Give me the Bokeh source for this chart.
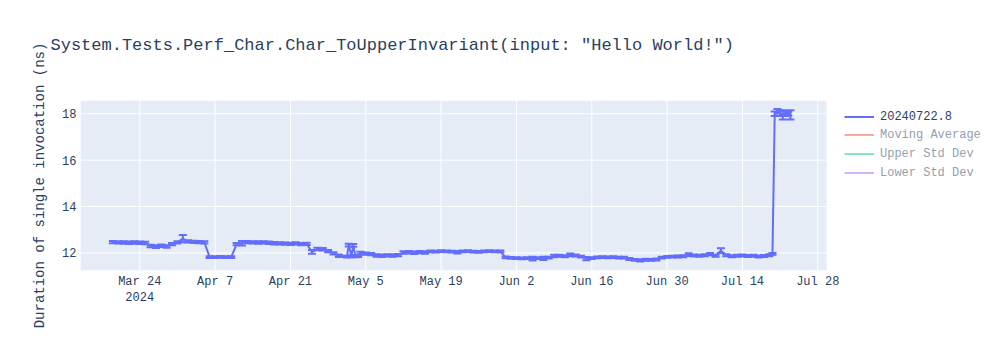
import math
import pandas as pd
from bokeh.plotting import figure
from bokeh.models import (ColumnDataSource, Range1d, FixedTicker, Whisker, TeeHead,
                          Legend, LegendItem, BoxAnnotation, Title)
from bokeh.embed import file_html
from bokeh.resources import INLINE

# ---------------- data ----------------
TITLE = 'System.Tests.Perf_Char.Char_ToUpperInvariant(input: "Hello World!")'
Y_LABEL = "Duration of single invocation (ns)"
SERIES_NAME = "20240722.8"
HIDDEN_SERIES = ["Moving Average", "Upper Std Dev", "Lower Std Dev"]

dates = [
    "2024-03-19", "2024-03-20", "2024-03-21", "2024-03-22", "2024-03-23", "2024-03-24", "2024-03-25",
    "2024-03-26", "2024-03-27", "2024-03-28", "2024-03-29", "2024-03-30", "2024-03-31",
    "2024-04-01", "2024-04-02", "2024-04-03", "2024-04-04", "2024-04-05",
    "2024-04-06", "2024-04-07", "2024-04-08", "2024-04-09", "2024-04-10",
    "2024-04-11", "2024-04-12", "2024-04-13", "2024-04-14", "2024-04-15", "2024-04-16", "2024-04-17",
    "2024-04-18", "2024-04-19", "2024-04-20", "2024-04-21", "2024-04-22", "2024-04-23", "2024-04-24",
    "2024-04-25", "2024-04-26", "2024-04-27", "2024-04-28", "2024-04-29", "2024-04-30",
    "2024-05-01 12:00", "2024-05-01 20:00", "2024-05-02 08:00", "2024-05-02 16:00", "2024-05-03 02:00", "2024-05-03 14:00",
    "2024-05-04", "2024-05-05", "2024-05-06", "2024-05-07", "2024-05-08", "2024-05-09", "2024-05-10", "2024-05-11",
    "2024-05-12", "2024-05-13", "2024-05-14", "2024-05-15", "2024-05-16",
    "2024-05-17", "2024-05-18", "2024-05-19", "2024-05-20", "2024-05-21", "2024-05-22", "2024-05-23",
    "2024-05-24", "2024-05-25", "2024-05-26", "2024-05-27", "2024-05-28", "2024-05-29", "2024-05-30",
    "2024-05-31", "2024-06-01", "2024-06-02", "2024-06-03", "2024-06-04", "2024-06-05", "2024-06-06", "2024-06-07", "2024-06-08",
    "2024-06-09", "2024-06-10", "2024-06-11", "2024-06-12", "2024-06-13", "2024-06-14",
    "2024-06-15", "2024-06-16",
    "2024-06-17", "2024-06-18", "2024-06-19", "2024-06-20", "2024-06-21", "2024-06-22",
    "2024-06-23", "2024-06-24", "2024-06-25", "2024-06-26", "2024-06-27", "2024-06-28",
    "2024-06-29", "2024-06-30", "2024-07-01", "2024-07-02", "2024-07-03",
    "2024-07-04", "2024-07-05", "2024-07-06", "2024-07-07", "2024-07-08", "2024-07-09", "2024-07-10", "2024-07-11",
    "2024-07-12", "2024-07-13", "2024-07-14", "2024-07-15", "2024-07-16", "2024-07-17", "2024-07-18", "2024-07-19",
    "2024-07-19 14:00",
    "2024-07-20", "2024-07-20 12:00", "2024-07-21", "2024-07-21 12:00", "2024-07-22", "2024-07-22 12:00", "2024-07-22 22:00",
]

values = [
    12.47, 12.46, 12.45, 12.44, 12.45, 12.44, 12.43,
    12.30, 12.27, 12.31, 12.28, 12.38, 12.46,
    12.62, 12.50, 12.48, 12.47, 12.46,
    11.82, 11.82, 11.83, 11.82, 11.82,
    12.38, 12.42, 12.47, 12.46, 12.45, 12.46, 12.44,
    12.42, 12.41, 12.40, 12.39, 12.41, 12.38, 12.39,
    12.05, 12.17, 12.16, 12.08, 11.98, 11.88,
    11.84, 12.34, 11.86, 12.33, 11.86, 11.87,
    12.00, 11.97, 11.95, 11.89, 11.88, 11.90, 11.89, 11.91,
    12.02, 12.03, 12.01, 12.04, 12.02,
    12.07, 12.06, 12.08, 12.07, 12.06, 12.03, 12.07,
    12.08, 12.06, 12.05, 12.07, 12.08, 12.07, 12.07,
    11.81, 11.79, 11.78, 11.77, 11.78, 11.76, 11.78, 11.77, 11.80,
    11.87, 11.88, 11.86, 11.92, 11.89, 11.84,
    11.76, 11.78,
    11.81, 11.82, 11.81, 11.82, 11.80, 11.80,
    11.74, 11.70, 11.68, 11.71, 11.70, 11.72,
    11.80, 11.83, 11.84, 11.85, 11.86,
    11.93, 11.89, 11.88, 11.90, 11.95, 11.88, 12.10, 11.90,
    11.86, 11.88, 11.89, 11.87, 11.88, 11.85, 11.87, 11.90,
    11.96,
    18.00, 18.05, 18.02, 17.95, 18.00, 18.00, 17.95,
]

errors = [
    0.05, 0.05, 0.05, 0.05, 0.05, 0.05, 0.05,
    0.05, 0.06, 0.05, 0.05, 0.05, 0.05,
    0.16, 0.05, 0.05, 0.05, 0.05,
    0.04, 0.04, 0.04, 0.04, 0.04,
    0.05, 0.10, 0.05, 0.05, 0.05, 0.05, 0.05,
    0.05, 0.05, 0.05, 0.05, 0.05, 0.05, 0.05,
    0.08, 0.05, 0.05, 0.05, 0.05, 0.05,
    0.04, 0.06, 0.04, 0.06, 0.04, 0.04,
    0.05, 0.05, 0.05, 0.05, 0.05, 0.05, 0.05, 0.05,
    0.05, 0.05, 0.05, 0.05, 0.05,
    0.04, 0.04, 0.04, 0.04, 0.04, 0.05, 0.04,
    0.04, 0.04, 0.04, 0.04, 0.04, 0.04, 0.04,
    0.04, 0.04, 0.04, 0.04, 0.04, 0.08, 0.04, 0.07, 0.04,
    0.05, 0.04, 0.04, 0.06, 0.04, 0.04,
    0.07, 0.04,
    0.04, 0.04, 0.04, 0.04, 0.04, 0.04,
    0.04, 0.04, 0.05, 0.04, 0.04, 0.04,
    0.04, 0.04, 0.04, 0.04, 0.04,
    0.06, 0.04, 0.04, 0.04, 0.05, 0.04, 0.10, 0.04,
    0.04, 0.04, 0.04, 0.04, 0.04, 0.04, 0.04, 0.04,
    0.04,
    0.10, 0.15, 0.12, 0.20, 0.10, 0.08, 0.20,
]

x_tick_dates = ["2024-03-24", "2024-04-07", "2024-04-21", "2024-05-05", "2024-05-19",
                "2024-06-02", "2024-06-16", "2024-06-30", "2024-07-14", "2024-07-28"]
x_tick_labels = ["Mar 24\n2024", "Apr 7", "Apr 21", "May 5", "May 19",
                 "Jun 2", "Jun 16", "Jun 30", "Jul 14", "Jul 28"]
y_ticks = [12, 14, 16, 18]

assert len(dates) == len(values) == len(errors)

# ---------------- ranges / styling ----------------
X_START = pd.Timestamp("2024-03-12 23:40")
X_PLOT_END = pd.Timestamp("2024-07-29 15:00")   # right edge of the shaded plot area
X_CANVAS_END = pd.Timestamp("2024-08-30 23:00")  # frame runs on under the legend
Y_LO, Y_HI = 11.245, 18.57

FONT = "Liberation Mono"
TXT = "#2a3f5f"
TXT_FADED = "#94a0af"
BLUE = "#636efa"
HIDDEN_COLORS = ["#EF553B", "#00cc96", "#ab63fa"]
BG = "#E5ECF6"


def ms(t):
    return pd.Timestamp(t).timestamp() * 1000.0


x = pd.to_datetime(dates, format="mixed")
src = ColumnDataSource(dict(
    x=x, y=values,
    upper=[v + e for v, e in zip(values, errors)],
    lower=[v - e for v, e in zip(values, errors)],
))

p = figure(width=1000, height=350, x_axis_type="datetime", title=TITLE,
           output_backend="svg", toolbar_location=None,
           x_range=Range1d(X_START, X_CANVAS_END),
           y_range=Range1d(Y_LO, Y_HI),
           min_border_left=80, min_border_right=0,
           min_border_top=100, min_border_bottom=80,
           background_fill_color="white", border_fill_color="white",
           outline_line_color=None)

# shaded plot area
p.add_layout(BoxAnnotation(left=ms(X_START), right=ms(X_PLOT_END),
                           fill_color=BG, fill_alpha=1.0, line_color=None,
                           level="underlay"))

# grid lines (limited to the shaded area)
tick_ms = [ms(d) for d in x_tick_dates]
p.segment(x0=[ms(X_START)] * len(y_ticks), x1=[ms(X_PLOT_END)] * len(y_ticks),
          y0=y_ticks, y1=y_ticks, line_color="white", line_width=1)
p.segment(x0=tick_ms, x1=tick_ms, y0=[Y_LO] * len(tick_ms), y1=[Y_HI] * len(tick_ms),
          line_color="white", line_width=1)
p.xgrid.visible = False
p.ygrid.visible = False

main = p.line("x", "y", source=src, line_color=BLUE, line_width=2)
head_u = TeeHead(size=8, line_color=BLUE, line_width=2)
head_l = TeeHead(size=8, line_color=BLUE, line_width=2)
p.add_layout(Whisker(source=src, base="x", upper="upper", lower="lower",
                     line_color=BLUE, line_width=2,
                     upper_head=head_u, lower_head=head_l, level="glyph"))

# legend-only traces: nothing is drawn in the plot area (NaN values)
hidden = [p.line(x=[x[0]], y=[math.nan], line_color=c, line_alpha=0.5, line_width=2)
          for c in HIDDEN_COLORS]

# axes
p.xaxis.ticker = FixedTicker(ticks=tick_ms)
p.xaxis.major_label_overrides = {t: lab for t, lab in zip(tick_ms, x_tick_labels)}
p.yaxis.ticker = FixedTicker(ticks=y_ticks)

for ax in (p.xaxis[0], p.yaxis[0]):
    ax.axis_line_color = None
    ax.major_tick_line_color = None
    ax.minor_tick_line_color = None
    ax.major_tick_out = 0
    ax.major_tick_in = 0
    ax.major_label_text_font = FONT
    ax.major_label_text_font_size = "12px"
    ax.major_label_text_color = TXT
    ax.major_label_standoff = 4

p.yaxis.axis_label = Y_LABEL
p.yaxis.axis_label_text_font = FONT
p.yaxis.axis_label_text_font_size = "14px"
p.yaxis.axis_label_text_font_style = "normal"
p.yaxis.axis_label_text_color = TXT
p.yaxis.axis_label_standoff = 11

# spacer panel between frame and title (keeps the title high, frame at y=100)
p.add_layout(Title(text=" ", text_font=FONT, text_font_size="17px",
                   text_color="white", standoff=25), "above")

# title (outermost panel)
p.title.text_font = FONT
p.title.text_font_size = "17px"
p.title.text_font_style = "normal"
p.title.text_color = TXT
p.title.align = "left"
p.title.offset = -30
p.title.standoff = 0

# legends (main entry, then the faded legend-only entries)
common = dict(glyph_width=30, glyph_height=19, label_height=19, spacing=0,
              padding=5, margin=0, label_standoff=6,
              label_text_font=FONT, label_text_font_size="12px",
              border_line_color=None, background_fill_alpha=0)
leg1 = Legend(items=[LegendItem(label=SERIES_NAME, renderers=[main])],
              location=(764, 144), label_text_color=TXT, **common)
leg2 = Legend(items=[LegendItem(label=n, renderers=[r]) for n, r in zip(HIDDEN_SERIES, hidden)],
              location=(764, 88), label_text_color=TXT_FADED, **common)
p.add_layout(leg1)
p.add_layout(leg2)

open("out.html", "w").write(file_html(p, INLINE))
